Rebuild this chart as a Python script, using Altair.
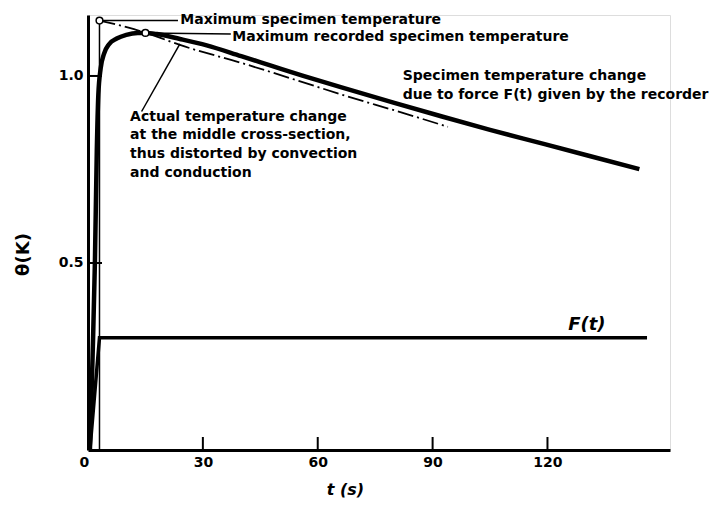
import altair as alt
import pandas as pd

# Recorded specimen temperature change (thick curve)
main_t = [0.5, 1.2, 1.8, 2.3, 2.7, 3.3, 4.2, 5.5, 7.5, 10, 13, 15, 18, 24, 31, 40, 48, 56, 66, 80, 92, 105, 118, 131, 144]
main_v = [0.0, 0.25, 0.5, 0.8, 0.95, 1.02, 1.06, 1.085, 1.10, 1.11, 1.115, 1.115, 1.112, 1.099, 1.082, 1.053, 1.027, 1.001, 0.970, 0.928, 0.893, 0.856, 0.821, 0.786, 0.751]

# Actual temperature change (dash-dot)
act_t = [3, 12, 18, 24, 40, 55, 66, 82, 94]
act_v = [1.148, 1.125, 1.105, 1.083, 1.035, 0.987, 0.951, 0.902, 0.864]

# Force F(t)
f_t = [0.5, 3, 146]
f_v = [0.0, 0.3, 0.3]

# Vertical marker at max specimen temperature
vert_t = [3, 3]
vert_v = [0.0, 1.148]

# Marker circles
mk_t = [3, 15]
mk_v = [1.148, 1.115]

# Leader lines (pairs)
lead_id = ["a", "a", "b", "b", "c", "c"]
lead_t = [3, 23.5, 15, 37.3, 14.0, 24.0]
lead_v = [1.148, 1.148, 1.115, 1.112, 0.905, 1.086]

# Annotation texts
ann_text = [
    "Maximum specimen temperature",
    "Maximum recorded specimen temperature",
    "Specimen temperature change",
    "due to force F(t) given by the recorder",
    "Actual temperature change",
    "at the middle cross-section,",
    "thus distorted by convection",
    "and conduction",
]
ann_t = [24.1, 37.7, 82.2, 82.2, 11.0, 11.0, 11.0, 11.0]
ann_v = [1.150, 1.104, 1.0, 0.949, 0.890, 0.842, 0.791, 0.741]

x_ticks = [0, 30, 60, 90, 120]
y_ticks = [0.5, 1.0]

W, H = 582, 435
xs = alt.Scale(domain=[0, 152], nice=False, zero=False)
ys = alt.Scale(domain=[0, 1.163], nice=False, zero=False)

main_df = pd.DataFrame({"t": main_t, "v": main_v})
act_df = pd.DataFrame({"t": act_t, "v": act_v})
f_df = pd.DataFrame({"t": f_t, "v": f_v})
vert_df = pd.DataFrame({"t": vert_t, "v": vert_v})
mk_df = pd.DataFrame({"t": mk_t, "v": mk_v})
lead_df = pd.DataFrame({"id": lead_id, "t": lead_t, "v": lead_v})
ann_df = pd.DataFrame({"text": ann_text, "t": ann_t, "v": ann_v})
xt_df = pd.DataFrame({"t": x_ticks[1:]})
yt_df = pd.DataFrame({"v": y_ticks})

FONT = "DejaVu Sans"

X = alt.X("t:Q", scale=xs, axis=alt.Axis(
    values=x_ticks, title="t (s)", grid=False, ticks=False, tickSize=0,
    domainWidth=3, domainColor="black", labelFont=FONT, labelFontWeight="bold",
    labelFontSize=14, labelColor="black", labelPadding=5,
    labelOffset={"condition": {"test": "datum.value === 0", "value": -9}, "value": 0},
    titleFont=FONT,
    titleFontStyle="italic", titleFontWeight="bold", titleFontSize=16,
    titleColor="black", titleBaseline="middle", titleX=257, titleY=39))
Y = alt.Y("v:Q", scale=ys, axis=alt.Axis(
    values=y_ticks, format=".1f", title="θ(K)", grid=False, ticks=False, tickSize=0,
    domainWidth=3, domainColor="black", labelFont=FONT, labelFontWeight="bold",
    labelFontSize=14, labelColor="black", labelPadding=5, titleFont=FONT,
    titleFontWeight="bold", titleFontSize=18, titleColor="black",
    titleBaseline="middle", titleX=-65, titleY=239))

main = alt.Chart(main_df).mark_line(color="black", strokeWidth=4.5, interpolate="monotone").encode(x=X, y=Y)
act = alt.Chart(act_df).mark_line(color="black", strokeWidth=1.8, strokeDash=[16, 4, 2, 4], interpolate="monotone").encode(x="t:Q", y="v:Q")
fline = alt.Chart(f_df).mark_line(color="black", strokeWidth=3.5).encode(x="t:Q", y="v:Q")
vert = alt.Chart(vert_df).mark_line(color="black", strokeWidth=1.5).encode(x="t:Q", y="v:Q")
lead = alt.Chart(lead_df).mark_line(color="black", strokeWidth=1.5).encode(x="t:Q", y="v:Q", detail="id:N")
mk = alt.Chart(mk_df).mark_point(shape="circle", size=45, filled=True, fill="white", stroke="black", strokeWidth=1.5, opacity=1).encode(x="t:Q", y="v:Q")
ann = alt.Chart(ann_df).mark_text(align="left", baseline="middle", font=FONT, fontWeight="bold", fontSize=14, color="black").encode(x="t:Q", y="v:Q", text="text:N")
ftxt = alt.Chart(pd.DataFrame({"text": ["F(t)"], "t": [125.4], "v": [0.334]})).mark_text(
    align="left", baseline="middle", font=FONT, fontWeight="bold", fontStyle="italic", fontSize=18, color="black").encode(x="t:Q", y="v:Q", text="text:N")
xtk = alt.Chart(xt_df).mark_rule(color="black", strokeWidth=2).encode(x="t:Q", y=alt.value(H), y2=alt.value(H - 13))
ytk = alt.Chart(yt_df).mark_rule(color="black", strokeWidth=2).encode(y="v:Q", x=alt.value(0), x2=alt.value(14))

chart = alt.layer(main, act, fline, vert, lead, mk, ann, ftxt, xtk, ytk).properties(
    width=W, height=H,
    autosize=alt.AutoSizeParams(type="none"),
    padding={"left": 80, "top": 7, "right": 42, "bottom": 48},
).configure_view(stroke=None).configure(background="white")

chart.save("out.html", embed_options={"renderer": "svg", "actions": False})
